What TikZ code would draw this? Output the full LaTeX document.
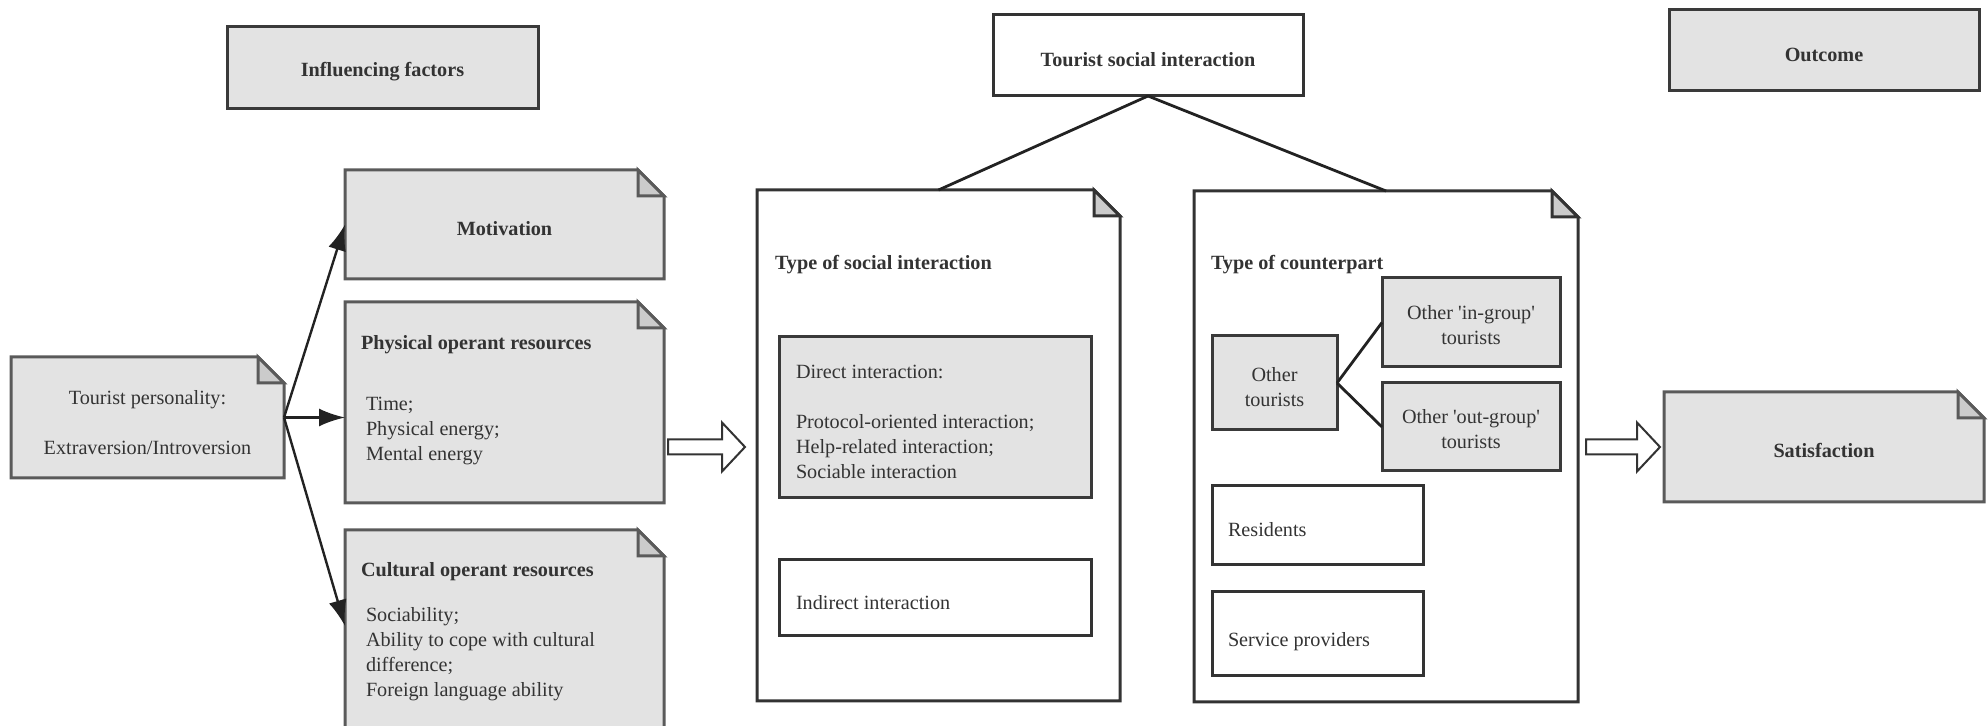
\documentclass[tikz,border=0pt]{standalone}
\usepackage{fontspec}
\setmainfont{Liberation Serif}[Ligatures=TeXOff]
\usetikzlibrary{arrows.meta,calc}
\pgfdeclarelayer{background}
\pgfsetlayers{background,main}

\definecolor{boxfill}{HTML}{E3E3E3}
\definecolor{foldfill}{HTML}{CBCBCB}
\definecolor{noteline}{HTML}{5A5A5A}
\definecolor{darkline}{HTML}{3A3A3A}
\definecolor{inkgray}{HTML}{333333}
\definecolor{arrowink}{HTML}{222222}

\newdimen\px \px=0.5pt
\newdimen\fold \fold=13pt
% taller first line, so centred text sits a little low in its box
\newcommand\lowstrut{\rule{0pt}{10.9pt}}

% note shape: rectangle with a dog-eared top right corner
\newcommand\foldframe[3]{%
  \draw[line width=1.5pt, draw=#3, fill=#2, line join=miter]
    (#1.north west) -- ([xshift=-\fold]#1.north east)
    -- ([yshift=-\fold]#1.north east) -- (#1.south east)
    -- (#1.south west) -- cycle;
  \draw[line width=1.5pt, draw=#3, fill=foldfill, line join=miter]
    ([xshift=-\fold]#1.north east) -- ([xshift=-\fold,yshift=-\fold]#1.north east)
    -- ([yshift=-\fold]#1.north east) -- cycle;
}
% block arrow from #1 to the tip #2
\newcommand\hollowarrow[2]{%
  \draw[hollow] ($(#1)+(0,-7.5)$) -- ($(#2)+(-23,-7.5)$) -- ($(#2)+(-23,-24.5)$)
    -- (#2) -- ($(#2)+(-23,24.5)$) -- ($(#2)+(-23,7.5)$) -- ($(#1)+(0,7.5)$) -- cycle;
}

\tikzset{
  basefont/.style={font=\fontsize{10.1pt}{12.5pt}\selectfont},
  base/.style={rectangle, inner sep=0pt, outer sep=0pt, align=center, text=inkgray, basefont},
  graybox/.style={base, fill=boxfill, draw=darkline, line width=1.5pt},
  whitebox/.style={base, fill=white, draw=inkgray, line width=1.5pt},
  notebox/.style={base},
  sz/.style 2 args={minimum width=#1\px, minimum height=#2\px},
  txt/.style={inner sep=0pt, outer sep=0pt, align=left, text=inkgray, basefont, anchor=north west},
  head/.style={txt, font=\fontsize{10.1pt}{12.5pt}\selectfont\bfseries},
  influence/.style={-{Latex[length=13pt,width=9pt]}, line width=1.2pt, draw=arrowink},
  link/.style={line width=1.4pt, draw=arrowink},
  hollow/.style={line width=1pt, draw=inkgray, fill=white, line join=miter},
}

\begin{document}
\begin{tikzpicture}[x=0.5pt, y=-0.5pt]
\useasboundingbox (0,0) rectangle (1988,726);

% column headers
\node[graybox, sz={311}{82}] (inf) at (382.5,68) {\lowstrut\textbf{Influencing factors}};
\node[whitebox, sz={310}{81}] (tsi) at (1148,55.5) {\lowstrut\textbf{Tourist social interaction}};
\node[graybox, sz={310}{81}] (out) at (1824,50.5) {\lowstrut\textbf{Outcome}};

% note boxes (frames drawn on the background layer)
\node[notebox, sz={273}{121}] (pers) at (147.5,417.5) {\rule{0pt}{11.8pt}Tourist personality:\\[12.5pt]Extraversion/Introversion};
\node[notebox, sz={319}{109}] (mot) at (504.5,224.5) {\lowstrut\textbf{Motivation}};
\node[notebox, sz={319}{201}] (phys) at (504.5,402.5) {};
\node[notebox, sz={319}{210}] (cult) at (504.5,635) {};
\node[notebox, sz={363}{511}] (sint) at (938.5,445.5) {};
\node[notebox, sz={384}{511}] (cpart) at (1386,446.5) {};
\node[notebox, sz={320}{110}] (sat) at (1824,447) {\lowstrut\textbf{Satisfaction}};

% boxes inside the interaction notes
\node[graybox, sz={312}{161}] (direct) at (935,417.5) {};
\node[whitebox, sz={312}{76}] (indir) at (935,598) {};
\node[graybox, sz={125}{94}] (othr) at (1274.5,383) {\rule{0pt}{11.4pt}Other\\tourists};
\node[graybox, sz={178}{89}] (ingrp) at (1471,322.5) {\rule{0pt}{9.5pt}Other 'in-group'\\tourists};
\node[graybox, sz={178}{88}] (outgrp) at (1471,427) {\rule{0pt}{9.5pt}Other 'out-group'\\tourists};
\node[whitebox, sz={211}{79}] (res) at (1317.5,525.5) {};
\node[whitebox, sz={211}{84}] (serv) at (1317.5,634) {};

% texts
\node[head] (physh) at (361,335) {Physical operant resources};
\node[txt] (physt) at (366,397) {Time;\\Physical energy;\\Mental energy};
\node[head] (culth) at (361,562) {Cultural operant resources};
\node[txt] (cultt) at (366,607) {Sociability;\\Ability to cope with cultural\\difference;\\Foreign language ability};
\node[head] (sinth) at (775,255) {Type of social interaction};
\node[txt] (directt) at (796,365) {Direct interaction:\\[12.5pt]Protocol-oriented interaction;\\Help-related interaction;\\Sociable interaction};
\node[txt] (indirt) at (796,595) {Indirect interaction};
\node[head] (cparth) at (1211,255) {Type of counterpart};
\node[txt] (rest) at (1228,522) {Residents};
\node[txt] (servt) at (1228,632) {Service providers};

\begin{pgfonlayer}{background}
  \foldframe{pers}{boxfill}{noteline}
  \foldframe{mot}{boxfill}{noteline}
  \foldframe{phys}{boxfill}{noteline}
  \foldframe{cult}{boxfill}{noteline}
  \foldframe{sat}{boxfill}{noteline}
  \foldframe{sint}{white}{inkgray}
  \foldframe{cpart}{white}{inkgray}
\end{pgfonlayer}

% influence arrows
\draw[influence] (pers.east) -- (mot.west);
\draw[influence] (pers.east) -- (pers.east -| phys.west);
\draw[influence] (pers.east) -- ([yshift=-48pt]cult.north west);

% structure lines
\draw[link] (tsi.south) -- (sint.north);
\draw[link] (tsi.south) -- (cpart.north);
\draw[link] (othr.east) -- (ingrp.west);
\draw[link] (othr.east) -- (outgrp.west);

% block arrows
\coordinate (h1s) at ($(phys.east |- sint.west)+(4,1.5)$);
\coordinate (h1t) at ($(sint.west)+(-12,1.5)$);
\coordinate (h2s) at ($(cpart.east |- sat.west)+(8,0)$);
\coordinate (h2t) at ($(sat.west)+(-4,0)$);
\hollowarrow{h1s}{h1t}
\hollowarrow{h2s}{h2t}
\end{tikzpicture}
\end{document}
